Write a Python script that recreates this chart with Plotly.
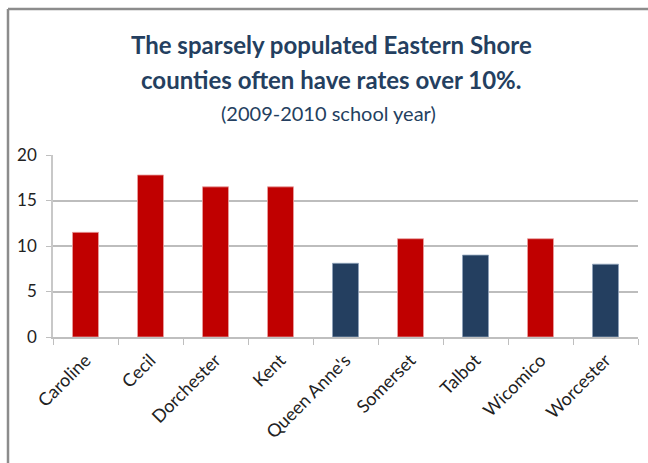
import plotly.graph_objects as go

# Eastern Shore counties, 2009-2010 school year
counties = ["Caroline", "Cecil", "Dorchester", "Kent", "Queen Anne's",
            "Somerset", "Talbot", "Wicomico", "Worcester"]
rates = [11.5, 17.8, 16.5, 16.5, 8.1, 10.8, 9.0, 10.8, 8.0]
threshold = 10

RED = "#C00000"
NAVY = "#243F60"
colors = [RED if r > threshold else NAVY for r in rates]
outlines = ["#E8A0A0" if r > threshold else "#8EA2BA" for r in rates]

FONT = "Lato, 'Open Sans', sans-serif"

fig = go.Figure(
    go.Bar(
        x=counties,
        y=rates,
        marker=dict(color=colors, line=dict(color=outlines, width=0.8)),
        width=0.4,
        hoverinfo="x+y",
    )
)

# plot area pixel geometry (648 x 463 page)
L, R, T, B = 53, 10, 155, 126
W, H = 648 - L - R, 463 - T - B


def px_x(px):
    return (px - L) / W


def px_y(py):
    return (463 - B - py) / H


fig.update_layout(
    width=648,
    height=463,
    margin=dict(l=L, r=R, t=T, b=B),
    paper_bgcolor="white",
    plot_bgcolor="white",
    showlegend=False,
    bargap=0.6,
    font=dict(family=FONT, color="#222222", size=16),
    xaxis=dict(
        type="category",
        tickangle=-45,
        ticks="outside",
        tickson="boundaries",
        ticklen=6,
        tickcolor="#BFBFBF",
        showline=True,
        linecolor="#BFBFBF",
        linewidth=1.5,
        showgrid=False,
        ticklabelstandoff=4,
        tickfont=dict(family=FONT, size=18, color="#222222"),
        fixedrange=True,
    ),
    yaxis=dict(
        range=[0, 20],
        tickvals=[0, 5, 10, 15, 20],
        ticks="outside",
        ticklen=5,
        tickcolor="#BFBFBF",
        showline=True,
        linecolor="#C8C8C8",
        linewidth=1.5,
        showgrid=True,
        gridcolor="#BDBDBD",
        gridwidth=1.5,
        zeroline=False,
        ticklabelstandoff=6,
        tickfont=dict(family=FONT, size=17, color="#222222"),
        fixedrange=True,
    ),
    shapes=[
        # chart frame (top and left edges)
        dict(type="line", xref="paper", yref="paper",
             x0=px_x(8), x1=px_x(700), y0=px_y(9), y1=px_y(9),
             line=dict(color="#8C8C8C", width=2.5)),
        dict(type="line", xref="paper", yref="paper",
             x0=px_x(8), x1=px_x(8), y0=px_y(9), y1=px_y(500),
             line=dict(color="#8C8C8C", width=2.5)),
    ],
    annotations=[
        dict(text="<b>The sparsely populated Eastern Shore</b>",
             xref="paper", yref="paper", x=px_x(331), y=px_y(45),
             xanchor="center", yanchor="middle", showarrow=False,
             font=dict(family=FONT, size=24, color=NAVY)),
        dict(text="<b>counties often have rates over 10%.</b>",
             xref="paper", yref="paper", x=px_x(331), y=px_y(80),
             xanchor="center", yanchor="middle", showarrow=False,
             font=dict(family=FONT, size=24, color=NAVY)),
        dict(text="(2009-2010 school year)",
             xref="paper", yref="paper", x=px_x(328), y=px_y(113),
             xanchor="center", yanchor="middle", showarrow=False,
             font=dict(family=FONT, size=20, color=NAVY)),
    ],
)

fig.write_html("out.html")
